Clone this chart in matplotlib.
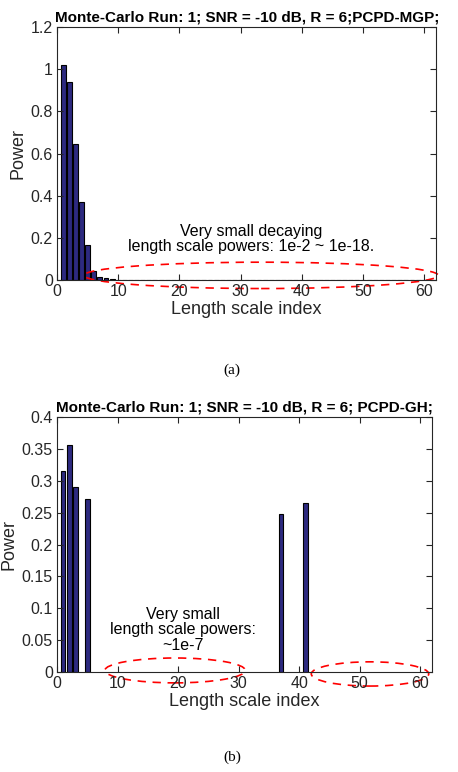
import numpy as np
import matplotlib
matplotlib.use("Agg")
from matplotlib import pyplot as plt
from matplotlib.patches import Ellipse

# --- DATA ---
idx_a = np.arange(1, 62)
power_a = np.array([1.02, 0.94, 0.645, 0.372, 0.165, 0.045, 0.015, 0.008, 0.004, 0.002]
                   + [0.001] * 51)

idx_b = np.array([1, 2, 3, 5, 37, 41])
power_b = np.array([0.315, 0.356, 0.291, 0.272, 0.248, 0.265])

title_a = "Monte-Carlo Run: 1; SNR = -10 dB, R = 6;PCPD-MGP;"
title_b = "Monte-Carlo Run: 1; SNR = -10 dB, R = 6; PCPD-GH;"
note_a = "Very small decaying\nlength scale powers: 1e-2 ~ 1e-18."
note_b = "Very small\nlength scale powers:\n~1e-7"

bar_color = "#2d2a80"
axis_color = "#262626"
plt.rcParams["font.family"] = ["Liberation Sans", "DejaVu Sans"]


# --- STYLE HELPER ---
def style_axes(ax, yticks, ylabels):
    ax.set_xlim(0, 62)
    ax.set_xticks(np.arange(0, 61, 10))
    ax.set_yticks(yticks)
    ax.set_yticklabels(ylabels)
    ax.tick_params(direction="in", top=True, right=True, length=4,
                   labelsize=11.5, colors=axis_color, pad=3)
    for sp in ax.spines.values():
        sp.set_color(axis_color)
        sp.set_linewidth(0.8)
    ax.set_xlabel("Length scale index", fontsize=13, color=axis_color, labelpad=1)
    ax.set_ylabel("Power", fontsize=13, color=axis_color, labelpad=3)


fig = plt.figure(figsize=(4.58, 7.72), dpi=100)

# --- PANEL (a) ---
ax1 = fig.add_axes([0.1245, 0.6373, 0.8285, 0.3277])
ax1.bar(idx_a, power_a, width=0.8, color=bar_color, edgecolor="black", linewidth=0.8)
ax1.set_ylim(0, 1.2)
style_axes(ax1, np.arange(0, 1.21, 0.2), ["0", "0.2", "0.4", "0.6", "0.8", "1", "1.2"])
ax1.set_title(title_a, fontsize=11, fontweight="bold", pad=4)
ax1.text(31.7, 0.195, note_a, ha="center", va="center", fontsize=11.5, linespacing=1.0)
ax1.add_patch(Ellipse((33.35, 0.022), 57.9, 0.125, fill=False, edgecolor="red",
                      linestyle=(0, (5, 4)), linewidth=1.2, clip_on=False))
fig.text(0.507, 0.521, "(a)", ha="center", va="center", fontsize=11,
         family="Liberation Serif")

# --- PANEL (b) ---
ax2 = fig.add_axes([0.1245, 0.1295, 0.8195, 0.3303])
ax2.bar(idx_b, power_b, width=0.8, color=bar_color, edgecolor="black", linewidth=0.8)
ax2.set_ylim(0, 0.4)
style_axes(ax2, np.arange(0, 0.41, 0.05),
           ["0", "0.05", "0.1", "0.15", "0.2", "0.25", "0.3", "0.35", "0.4"])
ax2.set_title(title_b, fontsize=11, fontweight="bold", pad=4)
ax2.text(20.8, 0.066, note_b, ha="center", va="center", fontsize=11.5, linespacing=1.05)
ax2.add_patch(Ellipse((19.5, 0.0025), 23.2, 0.039, fill=False, edgecolor="red",
                      linestyle=(0, (5, 4)), linewidth=1.2, clip_on=False))
ax2.add_patch(Ellipse((51.7, -0.003), 19.4, 0.038, fill=False, edgecolor="red",
                      linestyle=(0, (5, 4)), linewidth=1.2, clip_on=False))
fig.text(0.507, 0.019, "(b)", ha="center", va="center", fontsize=11,
         family="Liberation Serif")

fig.savefig("out.png", dpi=100)
